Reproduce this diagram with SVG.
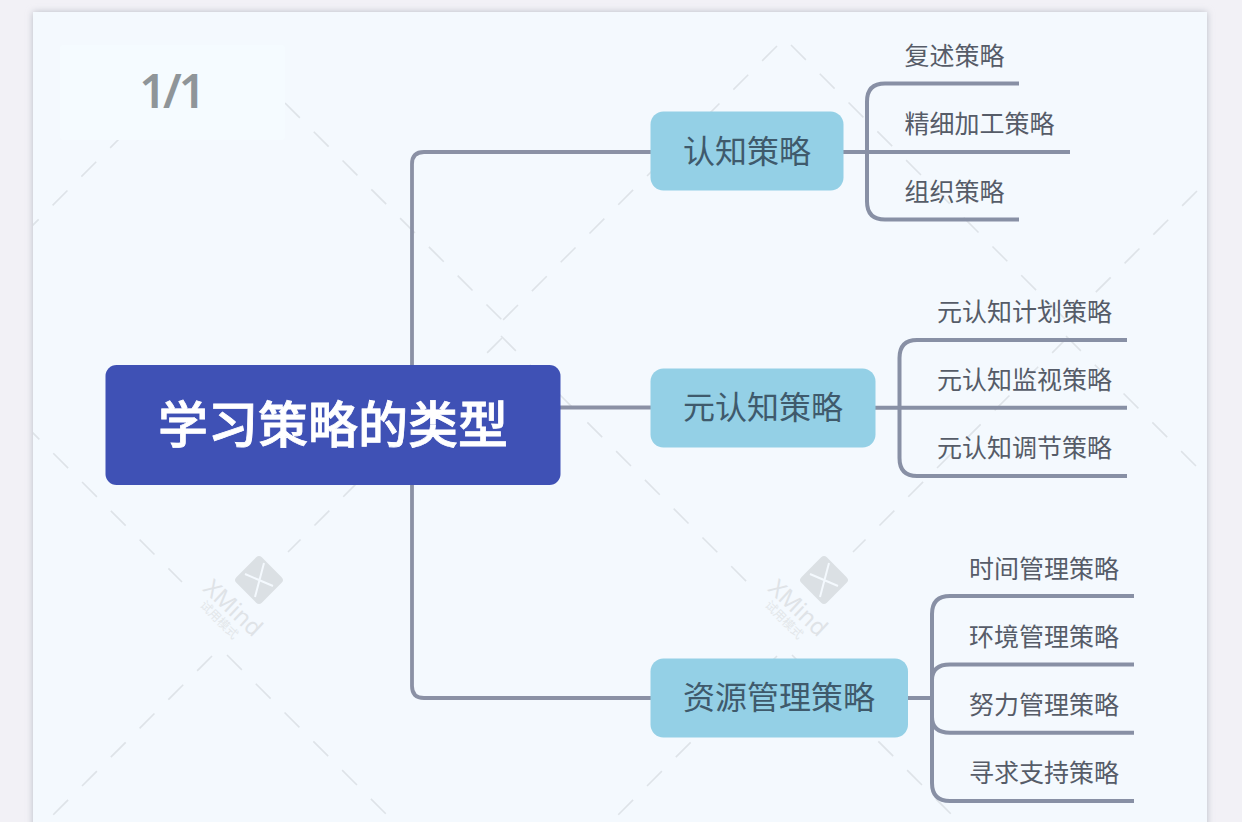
<svg xmlns="http://www.w3.org/2000/svg" width="1242" height="822" viewBox="0 0 1242 822">
<style>
text{font-family:"Noto Sans CJK SC","Noto Sans",sans-serif}
.wm{stroke:#dee3e8;stroke-width:1.6;stroke-dasharray:21 19.7;fill:none}
.c1{stroke:#8b91a5;stroke-width:3.8;fill:none}
.c2{stroke:#8890a5;stroke-width:4;fill:none}
.root{fill:#3f51b5}
.main{fill:#94d0e6}
.mt{font-size:32px;fill:#3f5a6c;text-anchor:middle}
.lt{font-size:25px;fill:#565c68;text-anchor:middle}
.lg{fill:#dbe0e4}
.lx{stroke:#f4f9fe;stroke-width:2;fill:none}
.wt{fill:#dfe3e7;font-family:"Noto Sans",sans-serif;font-size:23.5px;text-anchor:middle}
.ws{fill:#e3e7ea;font-size:12px;text-anchor:middle}
</style>
<defs>
<filter id="sh" x="-5%" y="-5%" width="110%" height="110%"><feGaussianBlur stdDeviation="3.5"/></filter>
<clipPath id="card"><rect x="33" y="12" width="1174" height="810"/></clipPath>
<g id="logo">
<rect x="241" y="562" width="36" height="36" rx="4" class="lg" transform="rotate(45 259 580)"/>
<path d="M245 574 L273 586 M264 563 L255 597" class="lx"/>
<text x="233" y="616" class="wt" transform="rotate(43 233 608)">XMind</text>
<text x="219" y="624" class="ws" transform="rotate(45 219 620)">试用模式</text>
</g>
</defs>
<rect width="1242" height="822" fill="#f2f1f6"/>
<rect x="33" y="12" width="1174" height="830" fill="#b9bcc6" filter="url(#sh)"/>
<rect x="33" y="12" width="1174" height="810" fill="#f4f9fe"/>
<g id="watermark" clip-path="url(#card)">
<path class="wm" d="M24.500 424.500L182 582"/>
<path class="wm" d="M227 655L400 828"/>
<path class="wm" d="M212 656L40 828"/>
<path class="wm" d="M502 338L288 552"/>
<path class="wm" d="M501 336L747 582"/>
<path class="wm" d="M792 655L965 828"/>
<path class="wm" d="M777 656L605 828"/>
<path class="wm" d="M1067 338L853 552"/>
<path class="wm" d="M1066 336L1210 480"/>
<path class="wm" d="M285 103L503 321"/>
<path class="wm" d="M777 46L500 323"/>
<path class="wm" d="M791 45L1068 322"/>
<path class="wm" d="M1197 191L1065 323"/>
<path class="wm" d="M125 133L20 238"/>
<use href="#logo"/>
<use href="#logo" x="565"/>
</g>
<rect x="60" y="45" width="225" height="95" rx="4" fill="#f5fbff"/>
<text id="page-number" x="171" y="108" font-size="47" font-weight="600" letter-spacing="-3" fill="#8f9599" text-anchor="middle" style="font-family:'Noto Sans',sans-serif">1/1</text>
<g id="connectors">
<path class="c1" d="M412 366V164Q412 152 424 152H651"/>
<path class="c1" d="M560 407.500H651"/>
<path class="c1" d="M412 484V686Q412 698 424 698H651"/>
<path class="c2" d="M843 152H1070"/>
<path class="c2" d="M1019 83.500H885Q867 83.500 867 101.500V201.500Q867 219.500 885 219.500H1019"/>
<path class="c2" d="M875 407.800H1127"/>
<path class="c2" d="M1127 340H917Q899.500 340 899.500 358V458Q899.500 476 917 476H1127"/>
<path class="c2" d="M907 698H932"/>
<path class="c2" d="M1134 596H950Q932 596 932 614V783Q932 801 950 801H1134"/>
<path class="c2" d="M1134 664.500H950Q932 664.500 932 680V717Q932 732.700 950 732.700H1134"/>
</g>
<g id="root"><rect class="root" x="105.500" y="365" width="455" height="120" rx="11"/><text x="333" y="443" font-size="50" font-weight="500" fill="#fff" stroke="#fff" stroke-width="0.8" text-anchor="middle">学习策略的类型</text></g>
<g id="n1"><rect class="main" x="650.500" y="111.500" width="193" height="79" rx="13"/><text class="mt" x="747" y="163">认知策略</text></g>
<g id="n2"><rect class="main" x="650.500" y="368.500" width="225" height="79" rx="13"/><text class="mt" x="763" y="419">元认知策略</text></g>
<g id="n3"><rect class="main" x="650.500" y="658.500" width="257.500" height="79" rx="13"/><text class="mt" x="779" y="709">资源管理策略</text></g>
<g id="l11"><text class="lt" x="954.500" y="64.500">复述策略</text></g>
<g id="l12"><text class="lt" x="979.500" y="132.500">精细加工策略</text></g>
<g id="l13"><text class="lt" x="954.500" y="200.500">组织策略</text></g>
<g id="l21"><text class="lt" x="1024.500" y="320.500">元认知计划策略</text></g>
<g id="l22"><text class="lt" x="1024.500" y="388.500">元认知监视策略</text></g>
<g id="l23"><text class="lt" x="1024.500" y="456.500">元认知调节策略</text></g>
<g id="l31"><text class="lt" x="1044" y="577.500">时间管理策略</text></g>
<g id="l32"><text class="lt" x="1044" y="645.500">环境管理策略</text></g>
<g id="l33"><text class="lt" x="1044" y="713.500">努力管理策略</text></g>
<g id="l34"><text class="lt" x="1044" y="781.500">寻求支持策略</text></g>
</svg>
